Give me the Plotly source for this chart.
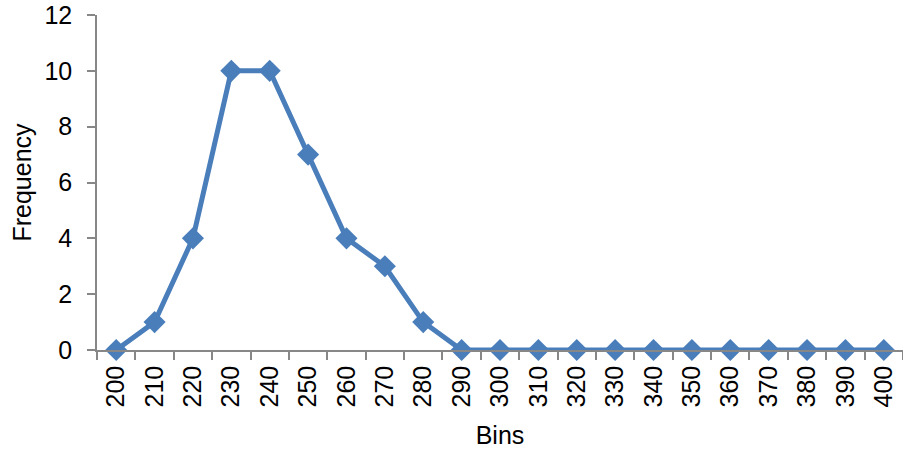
import plotly.graph_objects as go

bins = ["200", "210", "220", "230", "240", "250", "260", "270", "280", "290", "300",
        "310", "320", "330", "340", "350", "360", "370", "380", "390", "400"]
frequency = [0, 1, 4, 10, 10, 7, 4, 3, 1, 0, 0, 0, 0, 0, 0, 0, 0, 0, 0, 0, 0]
y_ticks = [0, 2, 4, 6, 8, 10, 12]

blue = "#4A7EBB"
axis_gray = "#878787"
font = dict(family="Liberation Sans, Arial, sans-serif", size=25, color="#000000")

fig = go.Figure()
fig.add_trace(go.Scatter(
    x=bins, y=frequency, mode="lines+markers",
    line=dict(color=blue, width=5),
    marker=dict(symbol="diamond", size=17, color=blue, line=dict(width=0)),
    cliponaxis=False,
))

fig.update_layout(
    width=903, height=450,
    margin=dict(l=97, r=0, t=15, b=100),
    paper_bgcolor="white", plot_bgcolor="white",
    showlegend=False,
    font=font,
    xaxis=dict(
        type="category", range=[-0.5, 20.5], automargin=False,
        showline=True, linecolor=axis_gray, linewidth=1.5,
        ticks="outside", tickson="boundaries", ticklen=8, tickcolor=axis_gray, tickwidth=1.5,
        tickangle=-90, showgrid=False, zeroline=False, ticklabelstandoff=4,
        ticklabeloverflow="allow",
        tickfont=font,
        title=dict(text="Bins", font=font, standoff=20),
    ),
    yaxis=dict(
        range=[0, 12], tickvals=y_ticks, automargin=False,
        showline=True, linecolor=axis_gray, linewidth=1.5,
        ticks="outside", ticklen=8, tickcolor=axis_gray, tickwidth=1.5,
        showgrid=False, zeroline=False, ticklabelstandoff=10,
        ticklabeloverflow="allow",
        tickfont=font,
        title=dict(text="Frequency", font=font, standoff=6),
    ),
)

fig.write_html("out.html",
               config={"displayModeBar": False},
               post_script="document.body.style.margin='0';document.body.style.overflow='hidden';")
